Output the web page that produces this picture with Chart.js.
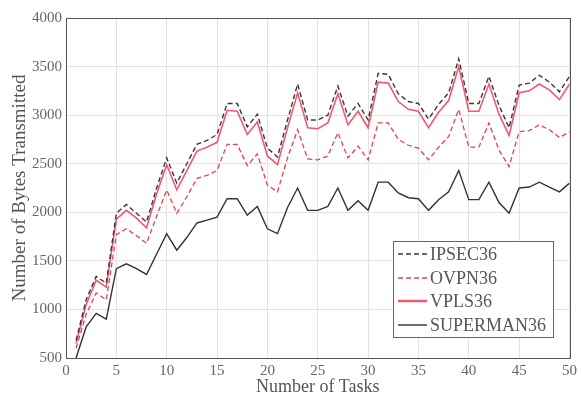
<!DOCTYPE html>
<html>
<head>
<meta charset="utf-8">
<script src="https://cdn.jsdelivr.net/npm/chart.js@4/dist/chart.umd.min.js"></script>
<style>
html,body{margin:0;padding:0;background:#fff;}
#wrap{width:581px;height:397px;position:relative;}
</style>
</head>
<body>
<div id="wrap"><canvas id="c" width="581" height="397"></canvas></div>
<script>
const tasks = [1,2,3,4,5,6,7,8,9,10,11,12,13,14,15,16,17,18,19,20,21,22,23,24,25,26,27,28,29,30,31,32,33,34,35,36,37,38,39,40,41,42,43,44,45,46,47,48,49,50];
const ipsec = [680,1100,1340,1270,1990,2080,1990,1900,2250,2560,2300,2500,2700,2740,2800,3120,3120,2880,3010,2660,2570,2950,3320,2950,2950,3000,3300,2990,3120,2950,3430,3420,3220,3140,3120,2960,3110,3230,3580,3120,3120,3400,3100,2870,3310,3330,3410,3340,3240,3400];
const ovpn = [600,950,1170,1100,1770,1830,1760,1680,1960,2230,1990,2160,2350,2380,2430,2700,2700,2480,2600,2280,2210,2560,2850,2550,2540,2580,2820,2560,2680,2540,2920,2920,2750,2690,2660,2540,2670,2780,3060,2670,2670,2920,2640,2470,2830,2840,2900,2850,2770,2830];
const vpls = [650,1050,1300,1230,1930,2020,1940,1840,2190,2490,2230,2430,2630,2670,2720,3050,3040,2800,2930,2580,2490,2870,3230,2870,2860,2920,3220,2900,3040,2870,3340,3330,3140,3060,3040,2870,3030,3150,3500,3040,3040,3320,3010,2790,3230,3250,3320,3260,3160,3320];
const superman = [500,820,960,900,1420,1470,1420,1360,1570,1780,1610,1740,1890,1920,1950,2140,2140,1970,2060,1830,1780,2050,2250,2020,2020,2060,2250,2020,2120,2020,2310,2310,2200,2150,2140,2020,2130,2210,2430,2130,2130,2310,2100,1990,2250,2260,2310,2260,2210,2300];
const seriesNames = ['IPSEC36','OVPN36','VPLS36','SUPERMAN36'];

const pts = arr => arr.map((v,i)=>({x:tasks[i], y:v}));
const styles = [
  {color:'#3d3540', dash:[5,3], width:1.4},
  {color:'#e8404f', dash:[5,3], width:1.3},
  {color:'#f05a70', dash:[], width:1.6},
  {color:'#333333', dash:[], width:1.4}
];
const seriesData = [ipsec, ovpn, vpls, superman];

const frame = {
  id:'frame',
  afterDraw(chart){
    const {ctx, chartArea:a} = chart;
    ctx.save();
    ctx.strokeStyle='#555';
    ctx.lineWidth=1;
    ctx.strokeRect(Math.round(a.left)+0.5, Math.round(a.top)+0.5, Math.round(a.right-a.left), Math.round(a.bottom-a.top));
    // legend
    const bx=393, by=241, bw=160, bh=96;
    ctx.fillStyle='#fff';
    ctx.fillRect(bx,by,bw,bh);
    ctx.strokeStyle='#666';
    ctx.strokeRect(bx+0.5,by+0.5,bw,bh);
    const ys=[254,278,301,325];
    ctx.font='18px "Liberation Serif", "DejaVu Serif", serif';
    ctx.textBaseline='middle';
    seriesNames.forEach((n,i)=>{
      const s=styles[i];
      ctx.beginPath();
      ctx.setLineDash(s.dash);
      ctx.strokeStyle=s.color;
      ctx.lineWidth= i===2 ? 2.5 : s.width;
      ctx.moveTo(398,ys[i]); ctx.lineTo(427,ys[i]);
      ctx.stroke();
      ctx.setLineDash([]);
      ctx.fillStyle='#555';
      ctx.fillText(n,430,ys[i]+1);
    });
    ctx.restore();
  }
};

new Chart(document.getElementById('c'), {
  type:'line',
  data:{
    datasets: seriesData.map((d,i)=>({
      label: seriesNames[i],
      data: pts(d),
      borderColor: styles[i].color,
      borderDash: styles[i].dash,
      borderWidth: styles[i].width,
      pointRadius:0,
      tension:0,
      fill:false
    }))
  },
  options:{
    responsive:false,
    animation:false,
    devicePixelRatio:1,
    layout:{padding:{left:0,right:5,top:18,bottom:0}},
    plugins:{legend:{display:false}, tooltip:{enabled:false}},
    scales:{
      x:{
        type:'linear', min:0, max:50,
        ticks:{stepSize:5, color:'#666', padding:4, font:{family:'"Liberation Serif", serif', size:15}, callback:v=>String(v)},
        grid:{color:'#e2e2e2', drawTicks:false},
        border:{display:false},
        title:{display:true, text:'Number of Tasks', color:'#555', font:{family:'"Liberation Serif", serif', size:18, lineHeight:1.0}, padding:{top:0,bottom:1}},
        afterFit(s){ s.height = 39; }
      },
      y:{
        min:500, max:4000,
        ticks:{stepSize:500, color:'#666', padding:4, font:{family:'"Liberation Serif", serif', size:15}, callback:v=>String(v)},
        grid:{color:'#e2e2e2', drawTicks:false},
        border:{display:false},
        title:{display:true, text:'Number of Bytes Transmitted', color:'#555', font:{family:'"Liberation Serif", serif', size:19, lineHeight:1.2}, padding:{top:9,bottom:0}},
        afterFit(s){ s.width = 66; }
      }
    }
  },
  plugins:[frame]
});
</script>
</body>
</html>
